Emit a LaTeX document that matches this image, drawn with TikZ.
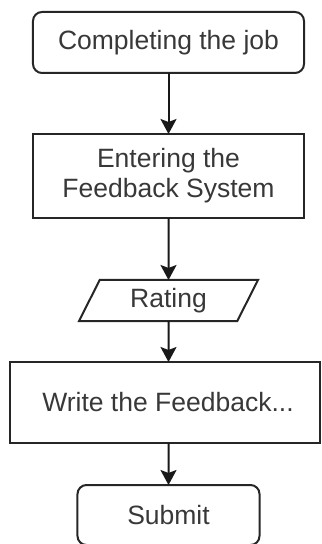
\documentclass[tikz,border=0pt]{standalone}
\usepackage{fontspec}
\setmainfont{Liberation Sans}
\usetikzlibrary{shapes.geometric,arrows.meta}
\begin{document}
\begin{tikzpicture}[x=0.5bp, y=-0.5bp,
  boxtext/.style={font=\fontsize{13.3}{15}\selectfont, text=black!78, align=center, inner sep=0pt, outer sep=0pt},
  flowbox/.style={boxtext, shape=rectangle, draw=black!85, line width=1bp},
  roundbox/.style={flowbox, rounded corners=4.5bp},
  iobox/.style={boxtext, shape=trapezium, draw=black!85, line width=1bp, trapezium left angle=50, trapezium right angle=130, trapezium stretches body},
  flowarrow/.style={-{Stealth[width=8bp,length=7.5bp,inset=1.5bp]}, line width=1bp, draw=black!90}]
\useasboundingbox (0,0) rectangle (321,544);
\clip (0,0) rectangle (321,544);
\node[roundbox, minimum width=135.5bp, minimum height=30.5bp] (job) at (168.5, 42.5) {Completing the job};
\node[flowbox, minimum width=135.5bp, minimum height=42bp] (enter) at (168.5, 176) {Entering the\\Feedback System};
\node[iobox, minimum width=89.5bp, minimum height=20.5bp] (rating) at (168.5, 300.5) {Rating};
\node[flowbox, minimum width=155bp, minimum height=40.5bp] (write) at (165, 402.5) {\hspace*{3bp}Write the Feedback...};
\node[roundbox, minimum width=91bp, minimum height=30bp] (submit) at (168.5, 515) {Submit};
% the wide box sits a little left of the column
\coordinate (writein) at (rating.south |- write.north);
\coordinate (writeout) at (rating.south |- write.south);
\path (job) edge [flowarrow] (enter);
\path (enter) edge [flowarrow] (rating);
\path (rating) edge [flowarrow] (writein);
\path (writeout) edge [flowarrow] (submit);
\end{tikzpicture}
\end{document}
